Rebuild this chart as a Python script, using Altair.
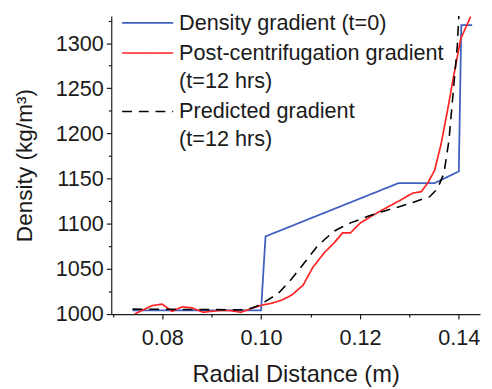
import altair as alt
import pandas as pd

series_names = ["Density gradient (t=0)",
                "Post-centrifugation gradient|(t=12 hrs)",
                "Predicted gradient|(t=12 hrs)"]

blue_x = [0.0740, 0.1000, 0.1009, 0.1278, 0.1351, 0.1400, 0.1405, 0.1427]
blue_y = [1004, 1004, 1086, 1145, 1145, 1158, 1320, 1320]

red_x = [0.0744, 0.0780, 0.0800, 0.0820, 0.0840, 0.0860, 0.0883, 0.0916, 0.0936,
         0.0959, 0.0982, 0.1002, 0.1022, 0.1042, 0.1062, 0.1085, 0.1105, 0.1128,
         0.1148, 0.1165, 0.1181, 0.1201, 0.1228, 0.1251, 0.1278, 0.1307, 0.1324,
         0.1337, 0.1351, 0.1364, 0.1377, 0.1390, 0.1404, 0.1424]
red_y = [1000, 1009.5, 1011, 1003, 1008, 1007, 1002, 1004, 1004,
         1002, 1006.5, 1010, 1012, 1015.5, 1021, 1032, 1052, 1068,
         1079, 1090, 1090, 1101, 1110, 1117, 1125, 1134, 1135.5,
         1145, 1159, 1188, 1225, 1265, 1305, 1329.5]

pred_x = [0.0740, 0.0969, 0.0989, 0.1009, 0.1035, 0.1062, 0.1088, 0.1115, 0.1148,
          0.1181, 0.1215, 0.1248, 0.1281, 0.1314, 0.1341, 0.1357, 0.1370, 0.1380,
          0.1390, 0.1397, 0.1400]
pred_y = [1005.5, 1004.7, 1008, 1014, 1023, 1039, 1057, 1076, 1092,
          1101, 1108, 1114, 1119, 1125, 1130, 1139, 1156, 1192,
          1254, 1297, 1330]

rows = []
for name, xs, ys in zip(series_names, [blue_x, red_x, pred_x], [blue_y, red_y, pred_y]):
    for i, (a, b) in enumerate(zip(xs, ys)):
        rows.append({"series": name, "r": a, "rho": b, "order": i})
df = pd.DataFrame(rows)

x_ticks = [0.07, 0.08, 0.09, 0.10, 0.11, 0.12, 0.13, 0.14]
y_ticks = [1000, 1025, 1050, 1075, 1100, 1125, 1150, 1175, 1200, 1225, 1250, 1275, 1300, 1325]

FONT = "Liberation Sans"

chart = alt.Chart(df).mark_line(clip=True).encode(
    x=alt.X("r:Q", scale=alt.Scale(domain=[0.0697, 0.1443], nice=False, zero=False),
            axis=alt.Axis(title="Radial Distance (m)", values=x_ticks,
                          labelExpr="round(datum.value*100) % 2 == 0 ? format(datum.value, '.2f') : ''",
                          tickSize={"condition": {"test": "round(datum.value*100) % 2 == 0", "value": 5}, "value": 3},
                          grid=False, labelFontSize=22, titleFontSize=24, titleFontWeight="normal",
                          labelColor="#1a1a1a", titleColor="#1a1a1a", domainColor="#1a1a1a",
                          tickColor="#1a1a1a", labelFont=FONT, titleFont=FONT,
                          labelPadding=9, titlePadding=15, domainWidth=1.2, tickWidth=1.2)),
    y=alt.Y("rho:Q", scale=alt.Scale(domain=[1000, 1330], nice=False, zero=False),
            axis=alt.Axis(title="Density (kg/m³)", values=y_ticks,
                          labelExpr="datum.value % 50 == 0 ? datum.value : ''",
                          tickSize={"condition": {"test": "datum.value % 50 == 0", "value": 5}, "value": 3},
                          grid=False, labelFontSize=22, titleFontSize=23, titleFontWeight="normal",
                          labelColor="#1a1a1a", titleColor="#1a1a1a", domainColor="#1a1a1a",
                          tickColor="#1a1a1a", labelFont=FONT, titleFont=FONT,
                          labelPadding=3, titlePadding=19, domainWidth=1.2, tickWidth=1.2)),
    color=alt.Color("series:N", sort=series_names,
                    scale=alt.Scale(domain=series_names, range=["#4060c0", "#ff2222", "#000000"]),
                    legend=alt.Legend(title=None, orient="none", legendX=26, legendY=-4,
                                      labelExpr="split(datum.label, '|')",
                                      labelFontSize=22, labelFont=FONT, labelColor="#1a1a1a",
                                      labelLimit=400, symbolType="M-5,0H5", symbolSize=108,
                                      labelOffset=21, rowPadding=8.5, labelBaseline="middle")),
    strokeDash=alt.StrokeDash("series:N", sort=series_names,
                              scale=alt.Scale(domain=series_names, range=[[1, 0], [1, 0], [10, 7]]),
                              legend=alt.Legend(title=None)),
    strokeWidth=alt.StrokeWidth("series:N", sort=series_names,
                                scale=alt.Scale(domain=series_names, range=[1.8, 1.6, 3.4]),
                                legend=alt.Legend(title=None)),
    order="order:Q",
).properties(
    width=375, height=303,
    padding={"left": 105, "top": 5, "right": 4, "bottom": 75},
    autosize=alt.AutoSizeParams(type="none"),
).configure(style={"guide-label": {"lineHeight": 28.5}}).configure_view(stroke=None)

chart.save("out.html", embed_options={"renderer": "svg", "actions": False})
